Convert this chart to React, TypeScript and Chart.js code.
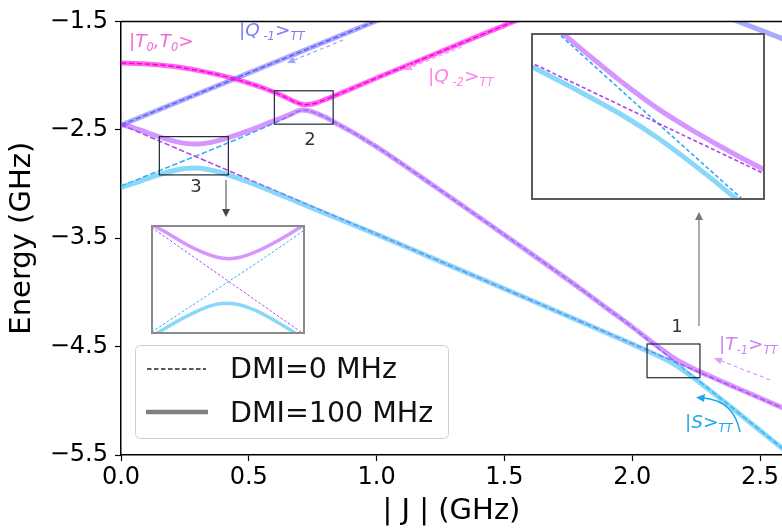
import React, { useEffect, useRef } from 'react';
import { Chart, registerables } from 'chart.js';

Chart.register(...registerables);

// ---- axes ----
const X_MIN = 0;
const X_MAX = 2.586;
const X_STEP = 0.5;
const Y_MIN = -5.5;
const Y_MAX = -1.5;
const Y_STEP = 1;

// ---- series (GHz) ----
// |T0,T0> -> |Q-2> (upper branch at crossing 2)
const tt0X = [0, 0.1, 0.2, 0.3, 0.4, 0.5, 0.58, 0.64, 0.68, 0.7, 0.72, 0.74, 0.76, 0.8, 0.9, 1.0, 1.2, 1.4, 1.6];
const tt0Y = [-1.884, -1.893, -1.914, -1.952, -2.003, -2.07, -2.135, -2.195, -2.242, -2.26, -2.268, -2.265, -2.255, -2.22, -2.122, -2.022, -1.828, -1.634, -1.44];
// |Q-1>
const q1X = [0, 1.05];
const q1Y = [-2.457, -1.446];
// level entering at top right
const qtX = [2.38, 2.6];
const qtY = [-1.469, -1.671];
// purple branch (DMI = 100 MHz)
const purX = [0, 0.05, 0.1, 0.15, 0.2, 0.25, 0.29, 0.33, 0.38, 0.42, 0.5, 0.6, 0.66, 0.69, 0.71, 0.73, 0.76, 0.8, 0.85, 0.9, 0.95, 1.0, 1.1, 1.2, 1.4, 1.6, 1.8, 1.9, 2.0, 2.06, 2.1, 2.14, 2.17, 2.2, 2.24, 2.3, 2.4, 2.5, 2.6];
const purY = [-2.45, -2.482, -2.523, -2.565, -2.6, -2.625, -2.632, -2.625, -2.6, -2.573, -2.508, -2.415, -2.36, -2.328, -2.318, -2.322, -2.343, -2.385, -2.45, -2.515, -2.585, -2.657, -2.815, -2.978, -3.305, -3.635, -3.97, -4.145, -4.318, -4.428, -4.5, -4.569, -4.616, -4.656, -4.704, -4.769, -4.872, -4.974, -5.076];
// light-blue branch (DMI = 100 MHz)
const bluX = [0, 0.05, 0.1, 0.15, 0.2, 0.25, 0.29, 0.33, 0.38, 0.42, 0.5, 0.6, 0.7, 0.8, 1.0, 1.2, 1.4, 1.6, 1.8, 1.9, 2.0, 2.06, 2.1, 2.14, 2.17, 2.2, 2.24, 2.3, 2.4, 2.5, 2.6];
const bluY = [-3.03, -2.995, -2.953, -2.914, -2.88, -2.857, -2.852, -2.861, -2.887, -2.916, -2.984, -3.077, -3.174, -3.272, -3.465, -3.665, -3.866, -4.068, -4.272, -4.374, -4.477, -4.54, -4.584, -4.631, -4.672, -4.719, -4.787, -4.897, -5.085, -5.274, -5.463];
// |T-1> (DMI = 0)
const tm1X = [0, 2.6];
const tm1Y = [-2.452, -5.078];
// |S> (DMI = 0)
const sX = [0, 0.6, 0.66, 0.69, 0.71, 0.73, 0.76, 0.8, 0.85, 0.9, 0.95, 1.0, 1.1, 1.2, 1.4, 1.6, 1.8, 1.9, 2.0, 2.17, 2.3, 2.45, 2.6];
const sY = [-3.02, -2.438, -2.37, -2.332, -2.32, -2.323, -2.343, -2.385, -2.45, -2.515, -2.585, -2.657, -2.815, -2.978, -3.305, -3.635, -3.97, -4.145, -4.321, -4.644, -4.891, -5.176, -5.461];

// zoom boxes (data units)
const BOX1 = { x0: 2.058, x1: 2.265, y0: -4.476, y1: -4.787 };
const BOX2 = { x0: 0.6, x1: 0.83, y0: -2.14, y1: -2.448 };
const BOX3 = { x0: 0.15, x1: 0.42, y0: -2.563, y1: -2.916 };
// inset view ranges
const INSET1 = { x0: 2.058, x1: 2.265, y0: -4.787, y1: -4.476 };
const INSET3 = { x0: 0.03, x1: 0.545, y0: -2.995, y1: -2.475 };

const C = {
  magThick: 'rgba(255,0,230,0.6)',
  q1Thick: 'rgba(100,100,255,0.55)',
  purThick: 'rgba(185,80,255,0.6)',
  bluThick: 'rgba(60,190,245,0.6)',
  magDash: '#ee00dd',
  q1Dash: '#5555ee',
  purDash: '#b040f0',
  bluDash: '#30aaf0',
};

const pts = (xs: number[], ys: number[]) => xs.map((x, i) => ({ x, y: ys[i] }));

function buildDatasets(thickW: number, dashW: number, dash: number[]) {
  const thick = (xs: number[], ys: number[], color: string) => ({
    data: pts(xs, ys), borderColor: color, borderWidth: thickW, pointRadius: 0,
    cubicInterpolationMode: 'monotone', fill: false, borderCapStyle: 'butt',
  });
  const dashed = (xs: number[], ys: number[], color: string) => ({
    data: pts(xs, ys), borderColor: color, borderWidth: dashW, pointRadius: 0,
    cubicInterpolationMode: 'monotone', fill: false, borderDash: dash,
  });
  return [
    thick(tt0X, tt0Y, C.magThick),
    thick(q1X, q1Y, C.q1Thick),
    thick(qtX, qtY, C.q1Thick),
    thick(purX, purY, C.purThick),
    thick(bluX, bluY, C.bluThick),
    dashed(tt0X, tt0Y, C.magDash),
    dashed(q1X, q1Y, C.q1Dash),
    dashed(tm1X, tm1Y, C.purDash),
    dashed(sX, sY, C.bluDash),
  ];
}

const fmt = (v: number) => (v < 0 ? '\u2212' : '') + Math.abs(v).toFixed(1);

function richText(ctx: any, x: number, y: number, parts: [string, boolean][], color: string, size: number) {
  let cx = x;
  ctx.fillStyle = color;
  ctx.textAlign = 'left';
  ctx.textBaseline = 'alphabetic';
  for (const [t, sub] of parts) {
    const s = sub ? size * 0.62 : size;
    ctx.font = `italic ${s}px "DejaVu Sans"`;
    ctx.fillText(t, cx, sub ? y + size * 0.24 : y);
    cx += ctx.measureText(t).width;
  }
}

function arrow(ctx: any, x1: number, y1: number, x2: number, y2: number, color: string, width: number, dash: number[], hl: number, hw: number) {
  const ang = Math.atan2(y2 - y1, x2 - x1);
  const bx = x2 - hl * Math.cos(ang);
  const by = y2 - hl * Math.sin(ang);
  ctx.save();
  ctx.strokeStyle = color;
  ctx.fillStyle = color;
  ctx.lineWidth = width;
  ctx.setLineDash(dash);
  ctx.beginPath();
  ctx.moveTo(x1, y1);
  ctx.lineTo(bx, by);
  ctx.stroke();
  ctx.setLineDash([]);
  ctx.beginPath();
  ctx.moveTo(x2, y2);
  ctx.lineTo(bx + hw * Math.sin(ang), by - hw * Math.cos(ang));
  ctx.lineTo(bx - hw * Math.sin(ang), by + hw * Math.cos(ang));
  ctx.closePath();
  ctx.fill();
  ctx.restore();
}

const annotations = {
  id: 'annotations',
  afterDraw(chart: any) {
    const ctx = chart.ctx;
    const a = chart.chartArea;
    const xs = chart.scales.x;
    const ys = chart.scales.y;
    ctx.save();
    // top spine
    ctx.strokeStyle = '#000';
    ctx.lineWidth = 1.5;
    ctx.beginPath();
    ctx.moveTo(a.left, a.top);
    ctx.lineTo(a.right, a.top);
    ctx.stroke();

    // zoom boxes
    ctx.strokeStyle = '#1e2838';
    ctx.lineWidth = 1.2;
    for (const b of [BOX1, BOX2, BOX3]) {
      const px0 = xs.getPixelForValue(b.x0);
      const px1 = xs.getPixelForValue(b.x1);
      const py0 = ys.getPixelForValue(b.y0);
      const py1 = ys.getPixelForValue(b.y1);
      ctx.strokeRect(px0, py0, px1 - px0, py1 - py0);
    }

    // box numbers
    ctx.fillStyle = '#333';
    ctx.font = '18px "DejaVu Sans"';
    ctx.textAlign = 'center';
    ctx.textBaseline = 'middle';
    ctx.fillText('1', 677, 327);
    ctx.fillText('2', 310, 140);
    ctx.fillText('3', 196, 187);

    // arrows to insets
    arrow(ctx, 226, 180, 226, 217, '#444', 1, [], 8, 4);
    arrow(ctx, 699, 326, 699, 212, '#777', 1.2, [], 8, 4);

    // state labels
    richText(ctx, 129, 47, [['|T', false], ['0', true], [',T', false], ['0', true], ['>', false]], '#f26ad6', 18.5);
    richText(ctx, 239, 36, [['|Q', false], [' -1', true], ['>', false], ['TT', true]], '#7d7df2', 18.5);
    richText(ctx, 428, 82, [['|Q', false], [' -2', true], ['>', false], ['TT', true]], '#ff82e4', 18.5);
    richText(ctx, 719, 350, [['|T', false], ['-1', true], ['>', false], ['TT', true]], '#d07ff5', 18.5);
    richText(ctx, 685, 428, [['|S', false], ['>', false], ['TT', true]], '#1fa6ea', 18.5);

    // dashed label arrows
    arrow(ctx, 343, 40, 287, 63, '#a5a5ff', 1.3, [4, 3], 8, 3.5);
    arrow(ctx, 462, 47, 404, 70, '#ff99ee', 1.3, [4, 3], 8, 3.5);
    arrow(ctx, 770, 380, 714, 358, '#dca0f5', 1.3, [4, 3], 8, 3.5);

    // curved |S> arrow
    ctx.strokeStyle = '#1fa6ea';
    ctx.fillStyle = '#1fa6ea';
    ctx.lineWidth = 1.5;
    ctx.beginPath();
    ctx.moveTo(740, 432);
    ctx.quadraticCurveTo(734, 401, 704, 398);
    ctx.stroke();
    ctx.beginPath();
    ctx.moveTo(696, 397.5);
    ctx.lineTo(705, 394);
    ctx.lineTo(704, 402);
    ctx.closePath();
    ctx.fill();

    // legend
    ctx.fillStyle = 'rgba(255,255,255,0.85)';
    ctx.strokeStyle = '#cfcfcf';
    ctx.lineWidth = 1;
    ctx.beginPath();
    ctx.roundRect(135.5, 345.5, 313, 93, 5);
    ctx.fill();
    ctx.stroke();
    ctx.strokeStyle = '#222';
    ctx.lineWidth = 1.3;
    ctx.setLineDash([4.5, 2.5]);
    ctx.beginPath();
    ctx.moveTo(147, 369);
    ctx.lineTo(206, 369);
    ctx.stroke();
    ctx.setLineDash([]);
    ctx.strokeStyle = '#7f7f7f';
    ctx.lineWidth = 4.5;
    ctx.beginPath();
    ctx.moveTo(146, 412);
    ctx.lineTo(208, 412);
    ctx.stroke();
    ctx.fillStyle = '#111';
    ctx.font = '28.5px "DejaVu Sans"';
    ctx.textAlign = 'left';
    ctx.textBaseline = 'alphabetic';
    ctx.fillText('DMI=0 MHz', 230, 378);
    ctx.fillText('DMI=100 MHz', 230, 422);
    ctx.restore();
  },
};

function insetConfig(r: any, thickW: number, dashW: number, dash: number[]) {
  return {
    type: 'line',
    data: { datasets: buildDatasets(thickW, dashW, dash) },
    options: {
      responsive: false,
      animation: false,
      events: [],
      layout: { padding: 0 },
      plugins: { legend: { display: false }, tooltip: { enabled: false } },
      scales: {
        x: { type: 'linear', display: false, min: r.x0, max: r.x1 },
        y: { type: 'linear', display: false, min: r.y0, max: r.y1 },
      },
    },
  } as any;
}

export default function App() {
  const mainRef = useRef<HTMLCanvasElement>(null);
  const in1Ref = useRef<HTMLCanvasElement>(null);
  const in3Ref = useRef<HTMLCanvasElement>(null);

  useEffect(() => {
    const tickFont = { family: 'DejaVu Sans', size: 24 };
    const main = new Chart(mainRef.current as any, {
      type: 'line',
      data: { datasets: buildDatasets(5, 1.5, [5.5, 2.4]) },
      options: {
        responsive: false,
        animation: false,
        events: [],
        layout: { padding: { top: 12, right: 0, bottom: 0, left: 0 } },
        plugins: { legend: { display: false }, tooltip: { enabled: false } },
        scales: {
          x: {
            type: 'linear', min: X_MIN, max: X_MAX,
            afterFit: (s: any) => { s.height = 74; },
            ticks: { stepSize: X_STEP, includeBounds: false, callback: (v: any) => fmt(v), font: tickFont, color: '#000', padding: 2, maxRotation: 0, autoSkip: false },
            grid: { display: true, drawOnChartArea: false, drawTicks: true, tickLength: 6, tickWidth: 1.2, tickColor: '#000' },
            border: { display: true, color: '#000', width: 1.5 },
            title: { display: true, text: '| J | (GHz)', font: { family: 'DejaVu Sans', size: 29 }, color: '#000', padding: { top: 0, bottom: 0 } },
          },
          y: {
            type: 'linear', min: Y_MIN, max: Y_MAX,
            afterFit: (s: any) => { s.width = 121; },
            ticks: { stepSize: Y_STEP, includeBounds: false, callback: (v: any) => fmt(v), font: tickFont, color: '#000', padding: 7, autoSkip: false },
            grid: { display: true, drawOnChartArea: false, drawTicks: true, tickLength: 6, tickWidth: 1.2, tickColor: '#000' },
            border: { display: true, color: '#000', width: 1.5 },
            title: { display: true, text: 'Energy (GHz)', font: { family: 'DejaVu Sans', size: 29 }, color: '#000', padding: { top: 5, bottom: 0 } },
          },
        },
      },
      plugins: [annotations],
    } as any);
    const in1 = new Chart(in1Ref.current as any, insetConfig(INSET1, 5, 1.6, [4, 2.5]));
    const in3 = new Chart(in3Ref.current as any, insetConfig(INSET3, 3.5, 1, [2.5, 2]));
    return () => { main.destroy(); in1.destroy(); in3.destroy(); };
  }, []);

  return (
    <div style={{ position: 'fixed', left: 0, top: 0, width: 782, height: 529, background: '#fff', overflow: 'hidden' }}>
      <canvas ref={mainRef} width={782} height={529} style={{ position: 'absolute', left: 0, top: 0 }} />
      <div style={{ position: 'absolute', left: 531, top: 33, width: 234, height: 167, border: '2px solid #5a5a5a', boxSizing: 'border-box', background: '#fff' }}>
        <canvas ref={in1Ref} width={230} height={163} style={{ display: 'block' }} />
      </div>
      <div style={{ position: 'absolute', left: 151, top: 225, width: 154, height: 109, border: '2px solid #8a8a8a', boxSizing: 'border-box', background: '#fff' }}>
        <canvas ref={in3Ref} width={150} height={105} style={{ display: 'block' }} />
      </div>
    </div>
  );
}
